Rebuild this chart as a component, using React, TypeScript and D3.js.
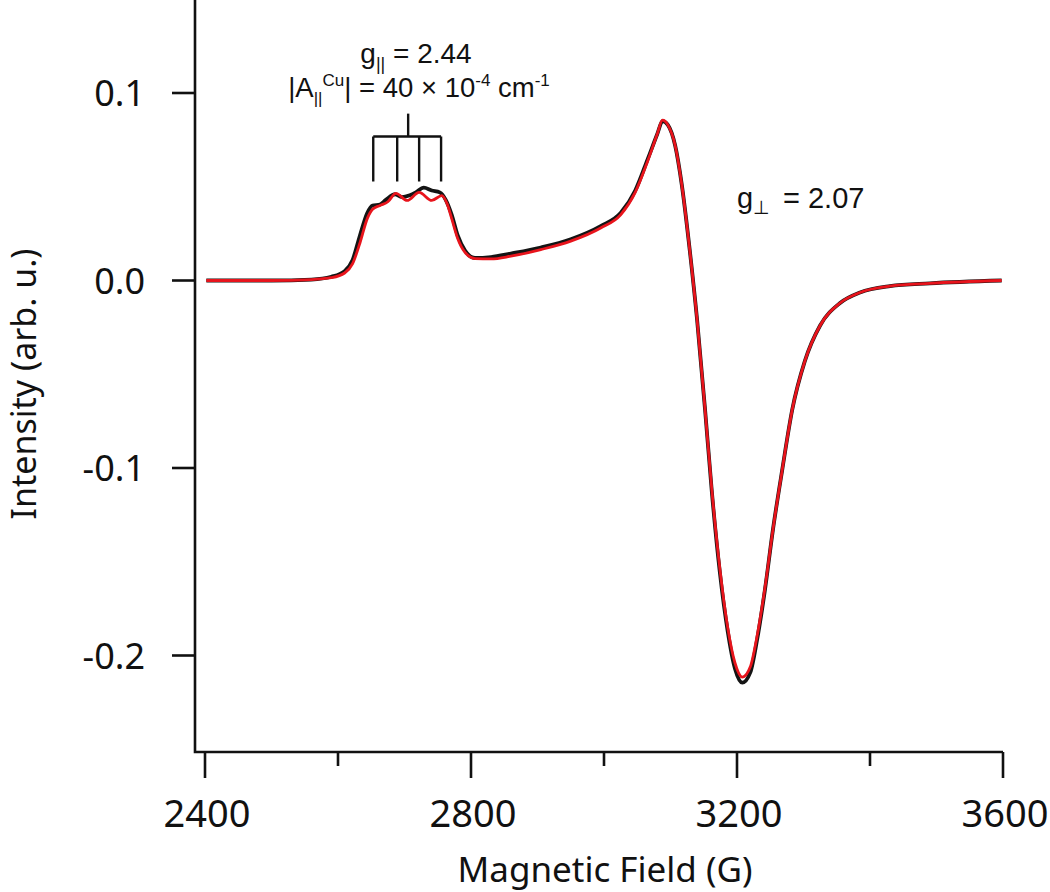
import React from "react";
import * as d3 from "d3";

const blackFields = [2402, 2500, 2560, 2590, 2610, 2622, 2633, 2644, 2652, 2663, 2672, 2686, 2696, 2708, 2717, 2729, 2741, 2753, 2762, 2771, 2780, 2791, 2806, 2830, 2860, 2905, 2950, 2995, 3025, 3047, 3066, 3080, 3088, 3096, 3107, 3117, 3129, 3140, 3152, 3162, 3174, 3186, 3197, 3208, 3220, 3230, 3242, 3254, 3268, 3283, 3302, 3325, 3355, 3385, 3430, 3490, 3598];
const blackValues = [0, 0, 0.0005, 0.002, 0.005, 0.011, 0.024, 0.036, 0.040, 0.0405, 0.043, 0.046, 0.0445, 0.0455, 0.047, 0.0495, 0.048, 0.047, 0.043, 0.035, 0.024, 0.016, 0.012, 0.0125, 0.0144, 0.0176, 0.022, 0.029, 0.036, 0.048, 0.065, 0.078, 0.085, 0.083, 0.072, 0.051, 0.016, -0.021, -0.069, -0.112, -0.155, -0.187, -0.207, -0.2145, -0.209, -0.192, -0.165, -0.133, -0.101, -0.069, -0.043, -0.024, -0.012, -0.0064, -0.003, -0.0015, 0];

const redFields = [2402, 2500, 2560, 2590, 2610, 2622, 2633, 2644, 2652, 2663, 2675, 2687, 2704, 2722, 2741, 2756, 2764, 2771, 2780, 2791, 2806, 2830, 2860, 2905, 2950, 2995, 3025, 3047, 3066, 3080, 3088, 3096, 3107, 3117, 3129, 3140, 3152, 3162, 3174, 3186, 3197, 3208, 3220, 3230, 3242, 3254, 3268, 3283, 3302, 3325, 3355, 3385, 3430, 3490, 3598];
const redValues = [0, 0, 0.0005, 0.0015, 0.004, 0.009, 0.020, 0.033, 0.038, 0.040, 0.042, 0.0465, 0.0427, 0.047, 0.0427, 0.0453, 0.041, 0.033, 0.0224, 0.015, 0.0117, 0.0115, 0.013, 0.0165, 0.021, 0.028, 0.035, 0.047, 0.064, 0.078, 0.0855, 0.083, 0.072, 0.051, 0.016, -0.021, -0.069, -0.111, -0.153, -0.185, -0.204, -0.2115, -0.206, -0.190, -0.164, -0.133, -0.101, -0.069, -0.043, -0.024, -0.012, -0.0064, -0.003, -0.0015, 0];

const xMajorTicks = [2400, 2800, 3200, 3600];
const xMinorTicks = [2600, 3000, 3400];
const yTicks = [0.1, 0.0, -0.1, -0.2];
const yTickLabels = ["0.1", "0.0", "-0.1", "-0.2"];
const hyperfineLines = [2653, 2689, 2722, 2755];
const stickLevels = { top: 0.089, bar: 0.0768, bottom: 0.0528 };

export default function App() {
  const x = d3.scaleLinear().domain([2400, 3600]).range([205, 1003]);
  const y = d3.scaleLinear().domain([-0.2, 0.1]).range([655.5, 93]);
  const axisLeft = 195;
  const axisBottom = 752;
  const axisTop = 0;
  const axisRight = x(3600);

  const black = blackFields.map((f, i) => [f, blackValues[i]] as [number, number]);
  const red = redFields.map((f, i) => [f, redValues[i]] as [number, number]);
  const line = d3
    .line<[number, number]>()
    .x((d) => x(d[0]))
    .y((d) => y(d[1]))
    .curve(d3.curveMonotoneX);

  const tickFont = "'Noto Sans', 'DejaVu Sans', sans-serif";
  const annFont = "'Liberation Sans', Arial, sans-serif";
  const stemX = (x(hyperfineLines[1]) + x(hyperfineLines[2])) / 2;

  return (
    <svg
      width={1050}
      height={892}
      style={{ position: "absolute", left: 0, top: 0, background: "#fff" }}
    >
      <rect x={0} y={0} width={1050} height={892} fill="#fff" />
      {/* curves */}
      <path d={line(black) || ""} fill="none" stroke="#141414" strokeWidth={3.8} strokeLinejoin="round" />
      <path d={line(red) || ""} fill="none" stroke="#e8141c" strokeWidth={2.8} strokeLinejoin="round" />

      {/* axes */}
      <path
        d={`M${axisLeft},${axisTop}V${axisBottom}H${axisRight}`}
        fill="none"
        stroke="#111"
        strokeWidth={2.6}
      />
      {yTicks.map((t, i) => (
        <g key={"y" + i}>
          <line x1={axisLeft - 23} x2={axisLeft} y1={y(t)} y2={y(t)} stroke="#111" strokeWidth={2.6} />
          <text
            x={145}
            y={y(t) + 13}
            textAnchor="end"
            fontFamily={tickFont}
            fontSize={36}
            fill="#111"
          >
            {yTickLabels[i]}
          </text>
        </g>
      ))}
      {xMajorTicks.map((t) => (
        <g key={"x" + t}>
          <line x1={x(t)} x2={x(t)} y1={axisBottom} y2={axisBottom + 26} stroke="#111" strokeWidth={2.6} />
          <text
            x={x(t) + 2}
            y={827}
            textAnchor="middle"
            fontFamily={tickFont}
            fontSize={38}
            fill="#111"
          >
            {t}
          </text>
        </g>
      ))}
      {xMinorTicks.map((t) => (
        <line key={"xm" + t} x1={x(t)} x2={x(t)} y1={axisBottom} y2={axisBottom + 14} stroke="#111" strokeWidth={2.6} />
      ))}

      {/* axis titles */}
      <text x={605} y={882} textAnchor="middle" fontFamily={tickFont} fontSize={35} fill="#111">
        Magnetic Field (G)
      </text>
      <text
        transform={`translate(36,384) rotate(-90)`}
        textAnchor="middle"
        fontFamily={tickFont}
        fontSize={34}
        fill="#111"
      >
        Intensity (arb. u.)
      </text>

      {/* hyperfine stick diagram */}
      <g stroke="#111" strokeWidth={2.4} fill="none">
        <line x1={stemX} x2={stemX} y1={y(stickLevels.top)} y2={y(stickLevels.bar)} />
        <line
          x1={x(hyperfineLines[0])}
          x2={x(hyperfineLines[hyperfineLines.length - 1])}
          y1={y(stickLevels.bar)}
          y2={y(stickLevels.bar)}
        />
        {hyperfineLines.map((h) => (
          <line key={"h" + h} x1={x(h)} x2={x(h)} y1={y(stickLevels.bar)} y2={y(stickLevels.bottom)} />
        ))}
      </g>

      {/* annotations */}
      <text x={416} y={63} textAnchor="middle" fontFamily={annFont} fontSize={28} fill="#111">
        g<tspan dy={7} fontSize={18}>||</tspan>
        <tspan dy={-7}> = 2.44</tspan>
      </text>
      <text x={419} y={97} textAnchor="middle" fontFamily={annFont} fontSize={27.5} fill="#111">
        |A<tspan dy={7} fontSize={17}>||</tspan>
        <tspan dy={-18} fontSize={17}>Cu</tspan>
        <tspan dy={11}>| = 40 × 10</tspan>
        <tspan dy={-11} fontSize={17}>-4</tspan>
        <tspan dy={11}> cm</tspan>
        <tspan dy={-11} fontSize={17}>-1</tspan>
      </text>
      <text x={737} y={208} fontFamily={annFont} fontSize={29} fill="#111">
        g<tspan dy={6} fontSize={19}>⊥</tspan>
        <tspan x={783} dy={-6}>= 2.07</tspan>
      </text>
    </svg>
  );
}
